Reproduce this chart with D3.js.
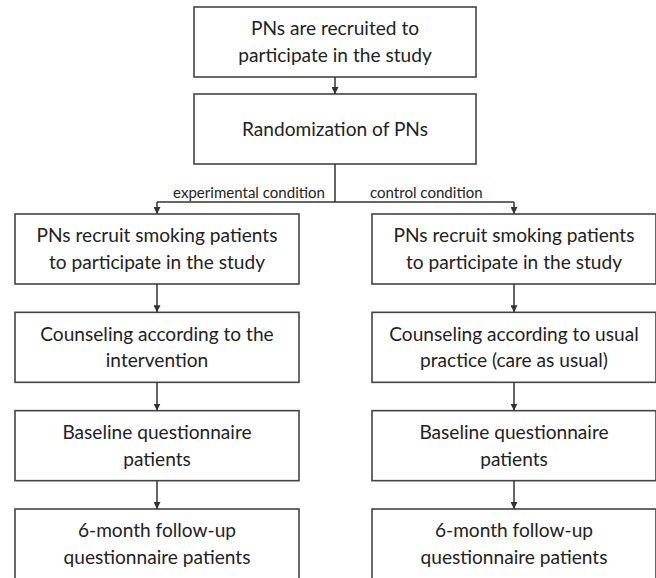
<!DOCTYPE html>
<html>
<head>
<meta charset="utf-8">
<script src="https://cdn.jsdelivr.net/npm/d3@7"></script>
<style>
  body { margin: 0; background: #fff; }
  svg text { font-family: Lato, "Open Sans", sans-serif; fill: #222; }
</style>
</head>
<body>
<div id="chart"></div>
<script>
// flowchart of the study design

const width = 656,
      height = 578;

// box texts (lines split by \n)
const topSteps = [
  "PNs are recruited to\nparticipate in the study",
  "Randomization of PNs"
];
const branchLabels = ["experimental condition", "control condition"];
const experimentalSteps = [
  "PNs recruit smoking patients\nto participate in the study",
  "Counseling according to the\nintervention",
  "Baseline questionnaire\npatients",
  "6-month follow-up\nquestionnaire patients"
];
const controlSteps = [
  "PNs recruit smoking patients\nto participate in the study",
  "Counseling according to usual\npractice (care as usual)",
  "Baseline questionnaire\npatients",
  "6-month follow-up\nquestionnaire patients"
];

const svg = d3.select('#chart').append('svg')
    .attr("width", width)
    .attr("height", height);

svg.append("defs").append("marker")
    .attr("id", "arrow")
    .attr("viewBox", "0 0 10 10")
    .attr("refX", 10).attr("refY", 5)
    .attr("markerWidth", 7).attr("markerHeight", 7)
    .attr("markerUnits", "userSpaceOnUse")
    .attr("orient", "auto")
  .append("path")
    .attr("d", "M0,0L10,5L0,10Z")
    .attr("fill", "#333");

// scales for rows and columns
const boxH = 70;
const yTop = d3.scaleLinear().domain([0, 1]).range([7, 94]);
const yRow = d3.scaleLinear().domain([0, 3]).range([214, 509]);
const xCol = d3.scaleOrdinal().domain([0, 1]).range([157, 514]);
const boxW = 284;
const topX = 335, topW = 282;

// measure font sizes so text widths fit the original layout
function fitSize(str, target) {
  const probe = svg.append("text").attr("font-size", 20).text(str);
  const s = 20 * target / probe.node().getComputedTextLength();
  probe.remove();
  return s;
}
const fs = fitSize("PNs recruit smoking patients", 241);
const fsSmall = fitSize("experimental condition", 152);

function drawBox(cx, y, w, label) {
  svg.append("rect")
      .attr("x", cx - w / 2).attr("y", y)
      .attr("width", w).attr("height", boxH)
      .attr("fill", "#fff")
      .attr("stroke", "#444").attr("stroke-width", 1.6);
  const lines = label.split("\n");
  const lh = 26.5;
  const t = svg.append("text")
      .attr("text-anchor", "middle")
      .attr("font-size", fs);
  lines.forEach((l, i) => {
    t.append("tspan")
        .attr("x", cx)
        .attr("y", y + boxH / 2 + (i - (lines.length - 1) / 2) * lh)
        .attr("dy", "0.35em")
        .text(l);
  });
}

function arrow(x1, y1, x2, y2) {
  svg.append("line")
      .attr("x1", x1).attr("y1", y1)
      .attr("x2", x2).attr("y2", y2)
      .attr("stroke", "#333").attr("stroke-width", 1.5)
      .attr("marker-end", "url(#arrow)");
}

// top boxes
topSteps.forEach((s, i) => drawBox(topX, yTop(i), topW, s));
arrow(topX, yTop(0) + boxH, topX, yTop(1));

// split
const splitY = 202;
svg.append("path")
    .attr("d", `M${topX},${yTop(1) + boxH}V${splitY}M${xCol(0)},${splitY}H${xCol(1)}`)
    .attr("fill", "none")
    .attr("stroke", "#333").attr("stroke-width", 1.5);
[0, 1].forEach(c => arrow(xCol(c), splitY, xCol(c), yRow(0)));

svg.selectAll(".branch")
  .data(branchLabels)
  .enter().append("text")
    .attr("class", "branch")
    .attr("x", (d, i) => i === 0 ? 325 : 370)
    .attr("y", 198)
    .attr("text-anchor", (d, i) => i === 0 ? "end" : "start")
    .attr("font-size", fsSmall)
    .text(d => d);

// branch columns
[experimentalSteps, controlSteps].forEach((steps, c) => {
  steps.forEach((s, i) => {
    drawBox(xCol(c), yRow(i), boxW, s);
    if (i > 0) arrow(xCol(c), yRow(i - 1) + boxH, xCol(c), yRow(i));
  });
});
</script>
</body>
</html>
